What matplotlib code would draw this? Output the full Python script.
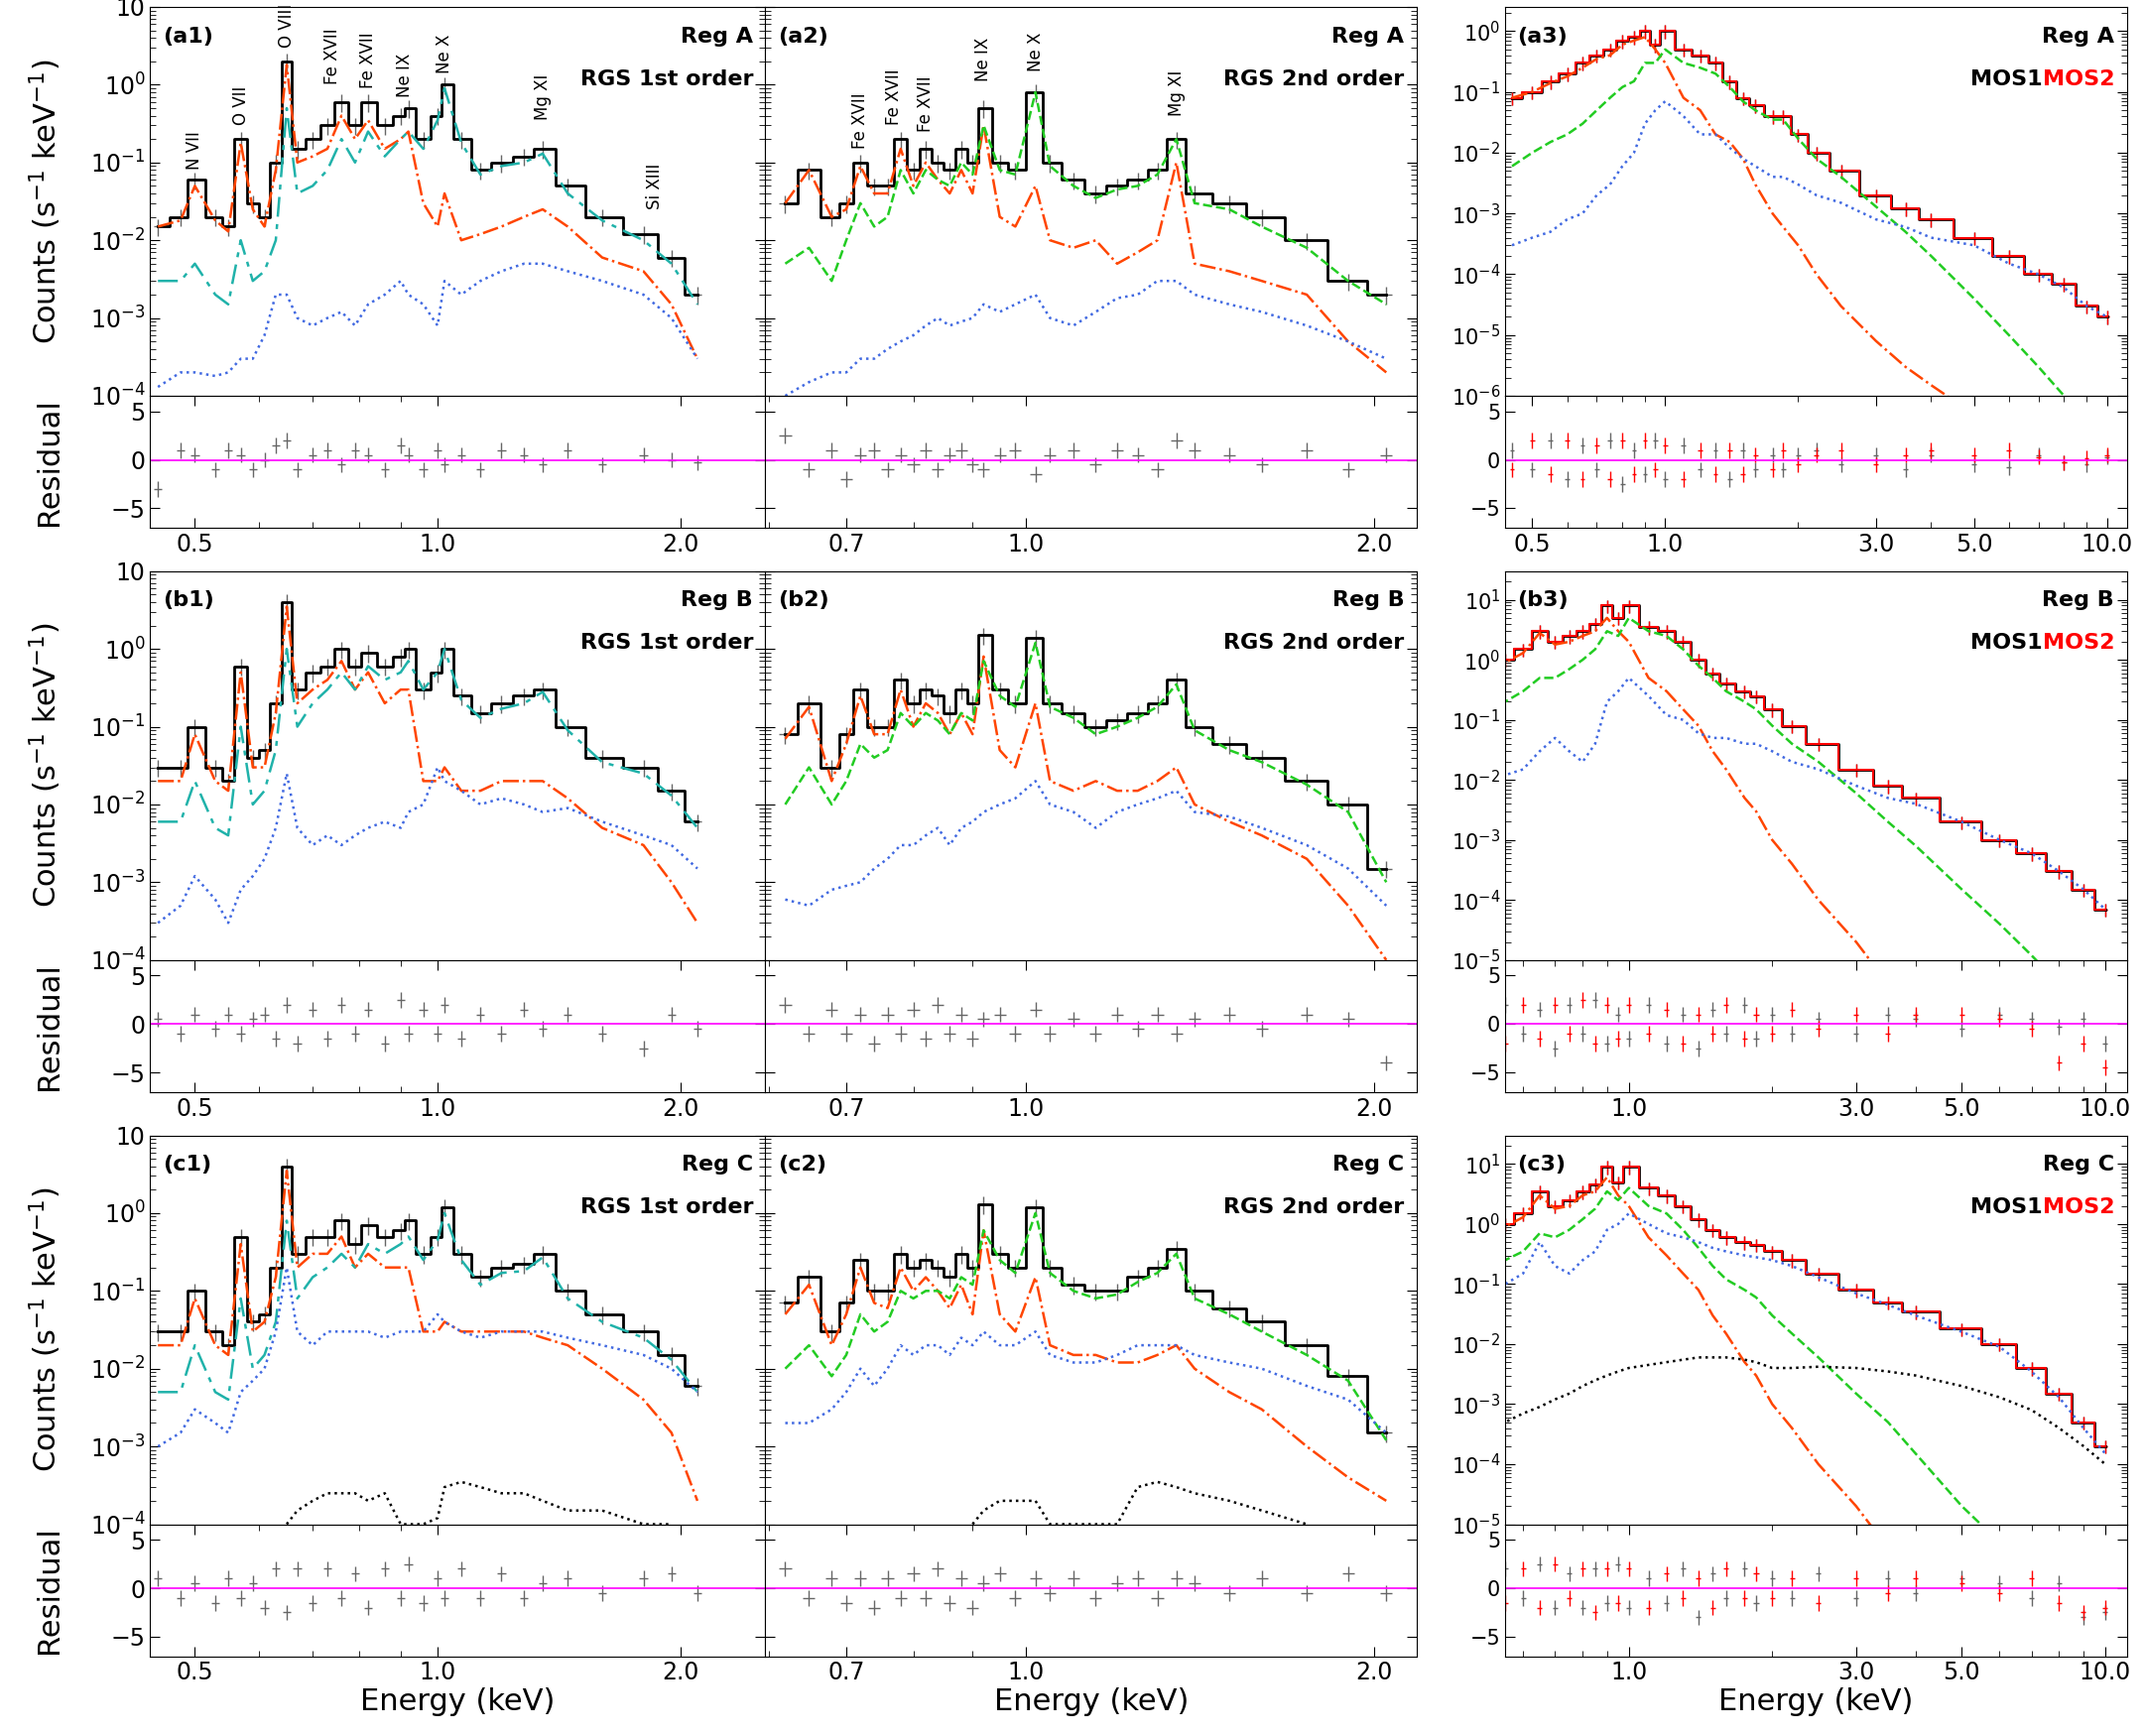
import numpy as np
import matplotlib.pyplot as plt
from matplotlib.ticker import NullFormatter, FixedLocator, FixedFormatter, LogFormatterSciNotation

nan = np.nan

# ---- energy grids (keV) ----
E_rgs1 = [0.45, 0.48, 0.50, 0.53, 0.55, 0.57, 0.59, 0.61, 0.63, 0.65, 0.67, 0.70, 0.73, 0.76, 0.79, 0.82,
          0.86, 0.90, 0.92, 0.96, 1.00, 1.02, 1.07, 1.13, 1.20, 1.28, 1.35, 1.45, 1.60, 1.80, 1.95, 2.10]
E_rgs2 = [0.62, 0.65, 0.68, 0.70, 0.72, 0.74, 0.76, 0.78, 0.80, 0.82, 0.84, 0.86, 0.88, 0.90, 0.92, 0.95,
          0.98, 1.02, 1.05, 1.10, 1.15, 1.20, 1.25, 1.30, 1.35, 1.40, 1.50, 1.60, 1.75, 1.90, 2.05]
E_mos = [0.45, 0.5, 0.55, 0.6, 0.65, 0.7, 0.75, 0.8, 0.85, 0.9, 0.95, 1.0, 1.1, 1.2, 1.3, 1.4, 1.5, 1.6,
         1.75, 1.85, 2.0, 2.2, 2.5, 3.0, 3.5, 4.0, 5.0, 6.0, 7.0, 8.0, 9.0, 10.0]

# ---- Reg A ----
a1_total = [0.015, 0.02, 0.06, 0.02, 0.015, 0.2, 0.03, 0.02, 0.1, 2.0, 0.15, 0.2, 0.3, 0.6, 0.3, 0.6,
            0.3, 0.4, 0.5, 0.2, 0.4, 1.0, 0.2, 0.08, 0.1, 0.12, 0.15, 0.05, 0.02, 0.012, 0.006, 0.002]
a1_cool = [0.015, 0.018, 0.05, 0.018, 0.013, 0.18, 0.025, 0.015, 0.08, 1.8, 0.1, 0.12, 0.15, 0.4, 0.2, 0.35,
           0.15, 0.2, 0.25, 0.03, 0.015, 0.04, 0.01, 0.012, 0.015, 0.02, 0.025, 0.015, 0.006, 0.004, 0.0015, 0.0003]
a1_hot = [0.003, 0.003, 0.005, 0.002, 0.0015, 0.01, 0.003, 0.004, 0.01, 0.5, 0.04, 0.05, 0.08, 0.2, 0.1, 0.25,
          0.12, 0.2, 0.25, 0.15, 0.35, 0.9, 0.18, 0.07, 0.09, 0.1, 0.13, 0.04, 0.018, 0.01, 0.005, 0.0015]
a1_nonth = [0.00013, 0.0002, 0.0002, 0.00018, 0.0002, 0.0003, 0.0003, 0.0006, 0.002, 0.002, 0.001, 0.0008,
            0.001, 0.0012, 0.0008, 0.0015, 0.002, 0.003, 0.002, 0.0015, 0.0008, 0.003, 0.002, 0.003, 0.004,
            0.005, 0.005, 0.004, 0.003, 0.002, 0.001, 0.0003]
a1_resid = [-3, 1, 0.5, -1, 1, 0.5, -1, 0, 1.5, 2, -1, 0.5, 1, -0.5, 1, 0.5, -1, 1.5, 0.5, -1, 1, -0.5,
            0.5, -1, 1, 0.5, -0.5, 1, -0.5, 0.5, 0, -0.3]

a2_total = [0.03, 0.08, 0.02, 0.03, 0.1, 0.05, 0.05, 0.2, 0.08, 0.15, 0.1, 0.08, 0.15, 0.1, 0.5, 0.1,
            0.08, 0.8, 0.1, 0.06, 0.04, 0.05, 0.06, 0.08, 0.2, 0.04, 0.03, 0.02, 0.01, 0.003, 0.002]
a2_cool = [0.03, 0.08, 0.02, 0.025, 0.09, 0.04, 0.04, 0.15, 0.05, 0.1, 0.06, 0.04, 0.08, 0.04, 0.3, 0.02,
           0.015, 0.05, 0.01, 0.008, 0.01, 0.005, 0.007, 0.01, 0.1, 0.005, 0.004, 0.003, 0.002, 0.0005, 0.0002]
a2_hot = [0.005, 0.008, 0.003, 0.01, 0.03, 0.015, 0.02, 0.08, 0.04, 0.08, 0.06, 0.05, 0.1, 0.07, 0.3, 0.08,
          0.07, 0.8, 0.09, 0.05, 0.035, 0.045, 0.05, 0.07, 0.2, 0.03, 0.025, 0.015, 0.008, 0.003, 0.0015]
a2_nonth = [0.0001, 0.00015, 0.0002, 0.0002, 0.0003, 0.0003, 0.0004, 0.0005, 0.0006, 0.0008, 0.001, 0.0008,
            0.0009, 0.001, 0.0015, 0.0012, 0.0015, 0.002, 0.001, 0.0008, 0.0012, 0.0018, 0.002, 0.003, 0.003,
            0.002, 0.0015, 0.0012, 0.0008, 0.0005, 0.0003]
a2_resid = [2.5, -1, 1, -2, 0.5, 1, -1, 0.5, -0.5, 1, -1, 0.5, 1, -0.5, -1, 0.5, 1, -1.5, 0.5, 1, -0.5,
            1, 0.5, -1, 2, 1, 0.5, -0.5, 1, -1, 0.5]

a3_total = [0.08, 0.1, 0.15, 0.2, 0.3, 0.4, 0.5, 0.7, 0.8, 1.0, 0.6, 1.0, 0.5, 0.4, 0.3, 0.15, 0.08, 0.06,
            0.04, 0.04, 0.02, 0.01, 0.005, 0.002, 0.0012, 0.0008, 0.0004, 0.0002, 0.0001, 7e-5, 3e-5, 2e-5]
a3_cool = [0.08, 0.1, 0.14, 0.18, 0.25, 0.35, 0.4, 0.6, 0.7, 0.8, 0.5, 0.3, 0.08, 0.05, 0.02, 0.015, 0.008,
           0.003, 0.001, 0.0006, 0.0003, 1e-4, 3e-5, 8e-6, 3e-6, 1.5e-6, 5e-7, nan, nan, nan, nan, nan]
a3_hot = [0.006, 0.01, 0.015, 0.02, 0.03, 0.05, 0.08, 0.12, 0.15, 0.3, 0.3, 0.5, 0.3, 0.25, 0.2, 0.12, 0.07,
          0.05, 0.035, 0.035, 0.017, 0.008, 0.004, 0.0013, 0.0005, 0.0002, 4e-5, 1e-5, 3e-6, 1e-6, 4e-7, nan]
a3_nonth = [0.0003, 0.0004, 0.0005, 0.0008, 0.001, 0.002, 0.003, 0.006, 0.01, 0.03, 0.05, 0.07, 0.04, 0.02,
            0.02, 0.012, 0.008, 0.006, 0.004, 0.004, 0.003, 0.002, 0.0015, 0.0008, 0.0006, 0.0004, 0.0003,
            0.00015, 0.0001, 6e-5, 3e-5, 2e-5]
a3_resid_mos1 = [1, -1, 2, -2, 1.5, -1, 2, -2.5, 1, -1.5, 2, -2, 1.5, -1, 1, -2, 1, -1, 0.5, -1, 0.5, 1,
                 -0.5, 0.5, -1, 0.5, -0.5, -0.8, 0.5, -0.3, -0.5, 0.3]
a3_resid_mos2 = [-1, 2, -1.5, 2, -2, 1.5, -2, 2, -1.5, 2, -1, 1.5, -2, 1, -1.5, 1, -1.5, 0.5, -1, 1, -0.5,
                 0.5, 1, -0.5, 0.5, 1, 0.5, 1, 0.3, -0.3, 0.2, 0.5]

# ---- Reg B ----
b1_total = [0.03, 0.03, 0.1, 0.03, 0.02, 0.6, 0.04, 0.05, 0.2, 4.0, 0.3, 0.5, 0.6, 1.0, 0.6, 0.9,
            0.6, 0.8, 1.0, 0.3, 0.5, 1.0, 0.25, 0.15, 0.2, 0.25, 0.3, 0.1, 0.04, 0.03, 0.015, 0.006]
b1_cool = [0.02, 0.02, 0.08, 0.02, 0.015, 0.5, 0.03, 0.03, 0.15, 3.5, 0.2, 0.3, 0.4, 0.7, 0.3, 0.5,
           0.2, 0.3, 0.3, 0.02, 0.02, 0.03, 0.015, 0.015, 0.02, 0.02, 0.02, 0.012, 0.005, 0.003, 0.001, 0.0003]
b1_hot = [0.006, 0.006, 0.02, 0.005, 0.004, 0.1, 0.01, 0.015, 0.05, 1.0, 0.1, 0.2, 0.3, 0.5, 0.3, 0.6,
          0.4, 0.5, 0.7, 0.3, 0.5, 1.0, 0.22, 0.13, 0.17, 0.2, 0.28, 0.09, 0.035, 0.025, 0.013, 0.005]
b1_nonth = [0.0003, 0.0005, 0.0012, 0.0006, 0.0003, 0.0008, 0.0012, 0.002, 0.005, 0.025, 0.005, 0.003,
            0.004, 0.003, 0.004, 0.005, 0.006, 0.005, 0.008, 0.01, 0.03, 0.02, 0.015, 0.01, 0.012, 0.01,
            0.008, 0.009, 0.006, 0.004, 0.003, 0.0015]
b1_resid = [0.5, -1, 1, -0.5, 1, -1, 0.5, 1, -1.5, 2, -2, 1.5, -1.5, 2, -1, 1.5, -2, 2.5, -1, 1.5, -1, 2,
            -1.5, 1, -1, 1.5, -0.5, 1, -1, -2.5, 1, -0.5]

b2_total = [0.08, 0.2, 0.03, 0.08, 0.3, 0.1, 0.1, 0.4, 0.2, 0.3, 0.25, 0.15, 0.3, 0.2, 1.5, 0.3,
            0.2, 1.4, 0.2, 0.15, 0.1, 0.12, 0.15, 0.2, 0.4, 0.1, 0.06, 0.04, 0.02, 0.01, 0.0015]
b2_cool = [0.07, 0.18, 0.02, 0.06, 0.25, 0.08, 0.08, 0.3, 0.1, 0.2, 0.15, 0.08, 0.15, 0.08, 0.8, 0.05,
           0.03, 0.2, 0.02, 0.015, 0.02, 0.015, 0.015, 0.02, 0.03, 0.01, 0.006, 0.004, 0.002, 0.0005, 0.0001]
b2_hot = [0.01, 0.03, 0.01, 0.02, 0.06, 0.04, 0.05, 0.15, 0.1, 0.15, 0.12, 0.08, 0.15, 0.12, 0.7, 0.25,
          0.18, 1.2, 0.18, 0.13, 0.08, 0.1, 0.13, 0.18, 0.35, 0.09, 0.05, 0.035, 0.018, 0.008, 0.001]
b2_nonth = [0.0006, 0.0005, 0.0008, 0.0009, 0.001, 0.0015, 0.002, 0.003, 0.003, 0.004, 0.005, 0.003,
            0.005, 0.006, 0.008, 0.01, 0.012, 0.02, 0.01, 0.008, 0.005, 0.008, 0.01, 0.012, 0.015, 0.008,
            0.007, 0.005, 0.003, 0.0015, 0.0005]
b2_resid = [2, -1, 1.5, -1, 1, -2, 1, -1, 1.5, -1.5, 2, -1, 1, -1.5, 0.5, 1, -1, 1.5, -1, 0.5, -1, 1,
            -0.5, 1, -1, 0.5, 1, -0.5, 1, 0.5, -4]

b3_total = [0.6, 0.8, 1.0, 1.5, 3.0, 2.0, 2.5, 3.0, 4.0, 8.0, 5.0, 8.0, 3.5, 3.0, 2.0, 1.0, 0.6, 0.4,
            0.3, 0.25, 0.15, 0.08, 0.04, 0.015, 0.008, 0.005, 0.002, 0.001, 0.0006, 0.0003, 0.00015, 7e-5]
b3_cool = [0.6, 0.75, 0.9, 1.3, 2.8, 1.8, 2.0, 2.5, 3.0, 5.0, 3.0, 2.0, 0.5, 0.3, 0.15, 0.08, 0.03, 0.015,
           0.005, 0.003, 0.001, 0.0004, 0.0001, 2e-5, 4e-6, nan, nan, nan, nan, nan, nan, nan]
b3_hot = [0.1, 0.15, 0.2, 0.3, 0.5, 0.5, 0.7, 1.0, 1.5, 3.0, 2.5, 5.0, 3.0, 2.5, 1.5, 0.8, 0.5, 0.3, 0.2,
          0.15, 0.08, 0.04, 0.02, 0.006, 0.002, 0.0008, 0.00015, 4e-5, 1.2e-5, 4e-6, nan, nan]
b3_nonth = [0.008, 0.01, 0.012, 0.015, 0.03, 0.05, 0.03, 0.02, 0.04, 0.2, 0.3, 0.5, 0.25, 0.12, 0.1, 0.06,
            0.05, 0.05, 0.04, 0.04, 0.03, 0.02, 0.015, 0.008, 0.005, 0.004, 0.002, 0.001, 0.0006, 0.0003,
            0.00015, 7e-5]
b3_resid_mos1 = [1, -2, 2, -1, 1.5, -2.5, 2, -1, 2.5, -2, 1, -1.5, 2, -2, 1, -2.5, 1.5, -1, 2, -1.5, 1,
                 -1, 0.5, -1, 1, 0.5, -0.5, 1, 0.5, -0.3, 0.5, -2]
b3_resid_mos2 = [-1, 2.5, -2, 2, -1.5, 2, -1, 2.5, -2, 2, -1.5, 2, -1, 1.5, -2, 1, -1, 2, -1.5, 1, -1,
                 1.5, -0.5, 1, -1, 1, 1, 0.5, -0.5, -4, -2, -4.5]

# ---- Reg C ----
c1_total = [0.03, 0.03, 0.1, 0.03, 0.02, 0.5, 0.04, 0.05, 0.2, 4.0, 0.3, 0.5, 0.5, 0.8, 0.4, 0.7,
            0.5, 0.6, 0.8, 0.3, 0.5, 1.2, 0.3, 0.15, 0.2, 0.22, 0.3, 0.1, 0.05, 0.03, 0.015, 0.006]
c1_cool = [0.02, 0.02, 0.08, 0.02, 0.015, 0.4, 0.03, 0.04, 0.15, 3.5, 0.2, 0.3, 0.3, 0.5, 0.2, 0.3,
           0.2, 0.2, 0.2, 0.03, 0.03, 0.04, 0.03, 0.03, 0.03, 0.03, 0.025, 0.02, 0.01, 0.004, 0.0015, 0.0002]
c1_hot = [0.005, 0.005, 0.02, 0.005, 0.004, 0.08, 0.01, 0.015, 0.04, 0.8, 0.08, 0.15, 0.2, 0.3, 0.2, 0.4,
          0.3, 0.4, 0.5, 0.25, 0.45, 1.0, 0.25, 0.12, 0.17, 0.18, 0.27, 0.08, 0.04, 0.025, 0.013, 0.005]
c1_nonth = [0.001, 0.0015, 0.003, 0.002, 0.0015, 0.005, 0.007, 0.01, 0.03, 0.2, 0.03, 0.02, 0.03, 0.03,
            0.03, 0.03, 0.025, 0.03, 0.03, 0.03, 0.05, 0.04, 0.03, 0.025, 0.03, 0.03, 0.03, 0.025, 0.02,
            0.015, 0.01, 0.005]
c1_bkg = [nan, nan, nan, nan, nan, nan, nan, nan, nan, 0.0001, 0.00015, 0.0002, 0.00025, 0.00025, 0.00025,
          0.0002, 0.00025, 0.0001, 0.0001, 0.0001, 0.00012, 0.0003, 0.00035, 0.0003, 0.00025, 0.00025,
          0.0002, 0.00015, 0.00015, 0.0001, 0.0001, nan]
c1_resid = [1, -1, 0.5, -1.5, 1, -1, 0.5, -2, 2, -2.5, 2, -1.5, 2, -1, 1.5, -2, 2, -1, 2.5, -1.5, 1, -1,
            2, -1, 1.5, -1, 0.5, 1, -0.5, 1, 1.5, -0.5]

c2_total = [0.07, 0.15, 0.03, 0.07, 0.25, 0.1, 0.1, 0.3, 0.2, 0.25, 0.2, 0.15, 0.3, 0.2, 1.3, 0.3,
            0.2, 1.2, 0.2, 0.12, 0.1, 0.1, 0.15, 0.2, 0.35, 0.1, 0.06, 0.04, 0.02, 0.008, 0.0015]
c2_cool = [0.05, 0.12, 0.02, 0.05, 0.2, 0.07, 0.06, 0.2, 0.1, 0.15, 0.1, 0.06, 0.12, 0.05, 0.6, 0.05,
           0.03, 0.15, 0.02, 0.015, 0.015, 0.012, 0.012, 0.015, 0.02, 0.01, 0.005, 0.003, 0.001, 0.0004, 0.0002]
c2_hot = [0.01, 0.02, 0.008, 0.015, 0.05, 0.03, 0.04, 0.1, 0.08, 0.1, 0.1, 0.08, 0.15, 0.12, 0.6, 0.25,
          0.17, 1.0, 0.17, 0.1, 0.08, 0.09, 0.13, 0.17, 0.3, 0.08, 0.05, 0.03, 0.015, 0.007, 0.0012]
c2_nonth = [0.002, 0.002, 0.003, 0.005, 0.01, 0.006, 0.01, 0.02, 0.015, 0.02, 0.02, 0.015, 0.025, 0.02,
            0.03, 0.02, 0.02, 0.03, 0.015, 0.012, 0.012, 0.015, 0.02, 0.02, 0.02, 0.015, 0.012, 0.01,
            0.006, 0.004, 0.0015]
c2_bkg = [nan, nan, nan, nan, nan, nan, nan, nan, nan, nan, nan, nan, nan, 0.0001, 0.00015, 0.0002,
          0.0002, 0.0002, 0.0001, 0.0001, 0.0001, 0.0001, 0.0003, 0.00035, 0.0003, 0.00025, 0.0002,
          0.00015, 0.0001, nan, nan]
c2_resid = [2, -1, 1, -1.5, 1, -2, 1, -1, 1.5, -1, 2, -1.5, 1, -2, 0.5, 1.5, -1, 1, -0.5, 1, -1, 0.5,
            1, -1, 1, 0.5, -0.5, 1, -0.5, 1.5, -0.5]

c3_total = [0.6, 0.8, 1.0, 1.5, 3.5, 2.0, 2.5, 3.5, 4.5, 9.0, 5.0, 9.0, 4.0, 3.0, 2.0, 1.2, 0.8, 0.6,
            0.5, 0.45, 0.35, 0.25, 0.15, 0.08, 0.05, 0.035, 0.018, 0.01, 0.004, 0.0015, 0.0005, 0.0002]
c3_cool = [0.6, 0.75, 0.9, 1.3, 3.0, 1.8, 2.0, 3.0, 3.5, 6.0, 3.0, 2.0, 0.6, 0.3, 0.15, 0.08, 0.03, 0.015,
           0.005, 0.003, 0.001, 0.0004, 0.0001, 2e-5, 4e-6, nan, nan, nan, nan, nan, nan, nan]
c3_hot = [0.15, 0.2, 0.25, 0.35, 0.7, 0.6, 0.8, 1.2, 1.8, 3.5, 2.5, 4.0, 2.0, 1.5, 0.8, 0.4, 0.2, 0.12,
          0.08, 0.06, 0.03, 0.015, 0.006, 0.0015, 0.0005, 0.00015, 2e-5, 5e-6, nan, nan, nan, nan]
c3_nonth = [0.05, 0.08, 0.1, 0.15, 0.5, 0.2, 0.15, 0.25, 0.35, 0.8, 1.0, 1.5, 1.0, 0.7, 0.6, 0.5, 0.4,
            0.35, 0.3, 0.28, 0.25, 0.2, 0.13, 0.07, 0.045, 0.03, 0.016, 0.009, 0.0035, 0.0013, 0.0004, 0.00015]
c3_bkg = [0.0003, 0.0004, 0.0005, 0.0007, 0.0009, 0.0012, 0.0015, 0.002, 0.0025, 0.003, 0.0035, 0.004,
          0.0045, 0.005, 0.0055, 0.006, 0.006, 0.006, 0.0055, 0.005, 0.004, 0.004, 0.0042, 0.004, 0.0035,
          0.003, 0.002, 0.0013, 0.0008, 0.0004, 0.0002, 0.0001]
c3_resid_mos1 = [1, -2, 2, -1, 2.5, -2, 1.5, -2, 2, -1.5, 2.5, -2, 1, -1.5, 2, -3, 1.5, -1, 2, -1.5, 1,
                 -1, 1.5, -1, 1, -0.5, 1, 0.5, -1, 0.5, -3, -2.5]
c3_resid_mos2 = [-1, 2, -1.5, 2, -2, 2.5, -1, 2, -2.5, 2, -1.5, 2, -2, 1.5, -1, 1, -2, 2, -1, 1.5, -1,
                 1, -1.5, 1, -0.5, 1, 0.5, -0.5, 1, -1.5, -2.5, -2]

# line identifications (energy, y, label)
a1_lines = [(0.50, 0.08, 'N VII'), (0.57, 0.3, 'O VII'), (0.65, 3.0, 'O VIII'), (0.74, 1.0, 'Fe XVII'),
            (0.82, 0.9, 'Fe XVII'), (0.91, 0.7, 'Ne IX'), (1.02, 1.4, 'Ne X'), (1.35, 0.35, 'Mg XI'),
            (1.86, 0.025, 'Si XIII')]
a2_lines = [(0.72, 0.15, 'Fe XVII'), (0.77, 0.3, 'Fe XVII'), (0.82, 0.25, 'Fe XVII'), (0.92, 1.1, 'Ne IX'),
            (1.02, 1.5, 'Ne X'), (1.35, 0.4, 'Mg XI')]

ORANGE = '#ff4500'
TEAL = '#20b2aa'
GREEN = '#22cc22'
BLUE = '#4169e1'
GREY = '#666666'

fig = plt.figure(figsize=(21.61, 17.5), dpi=100)

col_x = [(0.070, 0.287), (0.357, 0.304), (0.702, 0.290)]
row_y = [(0.772, 0.696), (0.447, 0.371), (0.122, 0.046)]
main_h = 0.224
res_h = 0.076


def style_axes(ax):
    ax.tick_params(which='both', direction='in', top=True, right=True, labelsize=17)
    ax.tick_params(which='major', length=7)
    ax.tick_params(which='minor', length=4)


def top_ten(v, pos):
    if np.isclose(v, 10):
        return '10'
    return LogFormatterSciNotation()(v, pos)


def draw(col, row, E, total, comps, resids, xlim, ylim, xticks, tag, reg, sub, mos=False):
    x0, w = col_x[col]
    ym, yr = row_y[row]
    ax = fig.add_axes([x0, ym, w, main_h])
    rx = fig.add_axes([x0, yr, w, res_h], sharex=ax)
    E = np.array(E)
    tot = np.array(total)
    data_colors = [GREY, 'red'] if mos else [GREY]
    for dcol in data_colors:
        ax.errorbar(E, tot, xerr=E * 0.012, yerr=tot * 0.25, fmt='none', ecolor=dcol, elinewidth=1.0)
    ax.step(E, tot, where='mid', color='k', lw=2)
    if mos:
        ax.step(E, tot, where='mid', color='red', lw=1.5)
    for vals, color, ls in comps:
        ax.plot(E, vals, color=color, ls=ls, lw=1.8)
    ax.set_xscale('log')
    ax.set_yscale('log')
    ax.set_xlim(*xlim)
    ax.set_ylim(*ylim)
    style_axes(ax)
    ax.tick_params(axis='x', which='both', bottom=False, top=False, labelbottom=False)
    if col == 0:
        ax.yaxis.set_major_formatter(plt.FuncFormatter(top_ten))
    ax.text(0.02, 0.95, tag, transform=ax.transAxes, fontsize=16, fontweight='bold', va='top')
    ax.text(0.98, 0.95, reg, transform=ax.transAxes, fontsize=16, fontweight='bold', va='top', ha='right')
    if mos:
        ax.text(0.865, 0.84, 'MOS1', transform=ax.transAxes, fontsize=16, fontweight='bold', va='top', ha='right')
        ax.text(0.865, 0.84, 'MOS2', transform=ax.transAxes, fontsize=16, fontweight='bold', va='top',
                ha='left', color='red')
    else:
        ax.text(0.98, 0.84, sub, transform=ax.transAxes, fontsize=16, fontweight='bold', va='top', ha='right')

    for rv, rc in zip(resids, data_colors):
        rv = np.array(rv)
        rx.errorbar(E, rv, xerr=E * 0.012, yerr=np.full(len(E), 0.8), fmt='none', ecolor=rc, elinewidth=1.0)
    rx.axhline(0, color='magenta', lw=1.2)
    rx.set_ylim(-7, 6.6)
    rx.set_yticks([-5, 0, 5])
    style_axes(rx)
    rx.tick_params(axis='y', which='minor', left=False, right=False)
    rx.xaxis.set_major_locator(FixedLocator(xticks))
    rx.xaxis.set_major_formatter(FixedFormatter([f'{t:.1f}' for t in xticks]))
    rx.xaxis.set_minor_formatter(NullFormatter())
    if col == 2:
        ax.tick_params(axis='y', labelsize=15)
        rx.tick_params(axis='y', labelsize=15)
    if col == 1:
        plt.setp(ax.get_yticklabels(), visible=False)
        plt.setp(rx.get_yticklabels(), visible=False)
    if col == 0:
        ax.set_ylabel('Counts (s$^{-1}$ keV$^{-1}$)', fontsize=22)
        rx.set_ylabel('Residual', fontsize=22)
        ax.yaxis.set_label_coords(-0.14, 0.5)
        rx.yaxis.set_label_coords(-0.14, 0.5)
    if row == 2:
        rx.set_xlabel('Energy (keV)', fontsize=22, labelpad=2)
    return ax


rgs1_ticks = [0.5, 1.0, 2.0]
rgs2_ticks = [0.7, 1.0, 2.0]
lim1 = (0.44, 2.55)
lim2 = (0.596, 2.18)
lim3 = (0.434, 11.1)

ax_a1 = draw(0, 0, E_rgs1, a1_total, [(a1_cool, ORANGE, '-.'), (a1_hot, TEAL, (0, (8, 3, 2, 3))), (a1_nonth, BLUE, ':')],
             [a1_resid], lim1, (1e-4, 10), rgs1_ticks, '(a1)', 'Reg A', 'RGS 1st order')
ax_a2 = draw(1, 0, E_rgs2, a2_total, [(a2_cool, ORANGE, '-.'), (a2_hot, GREEN, '--'), (a2_nonth, BLUE, ':')],
             [a2_resid], lim2, (1e-4, 10), rgs2_ticks, '(a2)', 'Reg A', 'RGS 2nd order')
draw(2, 0, E_mos, a3_total, [(a3_cool, ORANGE, '-.'), (a3_hot, GREEN, '--'), (a3_nonth, BLUE, ':')],
     [a3_resid_mos1, a3_resid_mos2], lim3, (1e-6, 2.5), [0.5, 1.0, 3.0, 5.0, 10.0], '(a3)', 'Reg A', '', mos=True)

draw(0, 1, E_rgs1, b1_total, [(b1_cool, ORANGE, '-.'), (b1_hot, TEAL, (0, (8, 3, 2, 3))), (b1_nonth, BLUE, ':')],
     [b1_resid], lim1, (1e-4, 10), rgs1_ticks, '(b1)', 'Reg B', 'RGS 1st order')
draw(1, 1, E_rgs2, b2_total, [(b2_cool, ORANGE, '-.'), (b2_hot, GREEN, '--'), (b2_nonth, BLUE, ':')],
     [b2_resid], lim2, (1e-4, 10), rgs2_ticks, '(b2)', 'Reg B', 'RGS 2nd order')
draw(2, 1, E_mos, b3_total, [(b3_cool, ORANGE, '-.'), (b3_hot, GREEN, '--'), (b3_nonth, BLUE, ':')],
     [b3_resid_mos1, b3_resid_mos2], (0.55, 11.1), (1e-5, 30), [1.0, 3.0, 5.0, 10.0], '(b3)', 'Reg B', '', mos=True)

draw(0, 2, E_rgs1, c1_total, [(c1_cool, ORANGE, '-.'), (c1_hot, TEAL, (0, (8, 3, 2, 3))), (c1_nonth, BLUE, ':'),
                              (c1_bkg, 'k', ':')],
     [c1_resid], lim1, (1e-4, 10), rgs1_ticks, '(c1)', 'Reg C', 'RGS 1st order')
draw(1, 2, E_rgs2, c2_total, [(c2_cool, ORANGE, '-.'), (c2_hot, GREEN, '--'), (c2_nonth, BLUE, ':'),
                              (c2_bkg, 'k', ':')],
     [c2_resid], lim2, (1e-4, 10), rgs2_ticks, '(c2)', 'Reg C', 'RGS 2nd order')
draw(2, 2, E_mos, c3_total, [(c3_cool, ORANGE, '-.'), (c3_hot, GREEN, '--'), (c3_nonth, BLUE, ':'),
                             (c3_bkg, 'k', ':')],
     [c3_resid_mos1, c3_resid_mos2], (0.55, 11.1), (1e-5, 30), [1.0, 3.0, 5.0, 10.0], '(c3)', 'Reg C', '', mos=True)

for e, y, lab in a1_lines:
    ax_a1.text(e, y, lab, rotation=90, fontsize=12, ha='center', va='bottom')
for e, y, lab in a2_lines:
    ax_a2.text(e, y, lab, rotation=90, fontsize=12, ha='center', va='bottom')

fig.savefig('out.png', dpi=100)
